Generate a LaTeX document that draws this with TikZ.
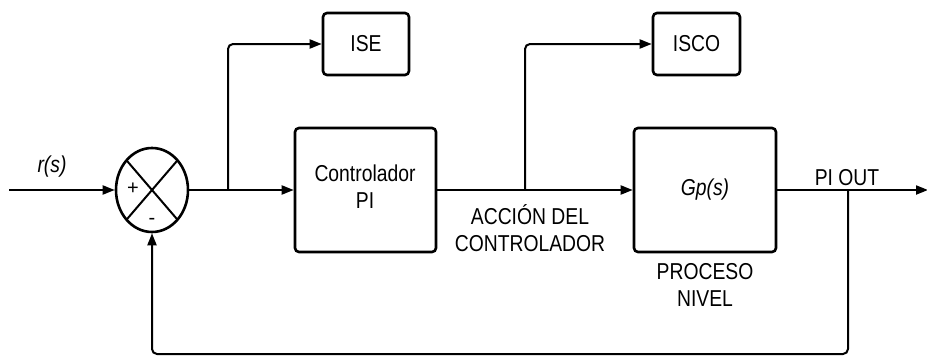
\documentclass[tikz,border=0pt]{standalone}
\usepackage{fontspec}
\setmainfont{Liberation Sans}
\usetikzlibrary{arrows.meta,shapes.geometric}
\newcommand{\sq}[1]{\scalebox{0.84}[1]{#1}}
\newcommand{\two}[2]{\sq{\begin{tabular}{@{}c@{}}#1\\#2\end{tabular}}}
\tikzset{
  blk/.style={draw, rounded corners=4pt, line width=2.6pt, inner sep=0pt},
  conn/.style={line width=2pt, -{Triangle[length=12pt,width=9pt]}},
  wire/.style={line width=2pt},
  lbl/.style={inner sep=0pt, font=\fontsize{23}{27}\selectfont},
  sgn/.style={inner sep=0pt, font=\fontsize{20}{24}\selectfont},
}
\begin{document}
\begin{tikzpicture}[x=1pt,y=-1pt]
\useasboundingbox (0,0) rectangle (927,356);
% nodes
\node[draw, ellipse, line width=2.6pt, minimum width=72pt, minimum height=84pt, inner sep=0pt] (sum) at (152,190) {};
\draw[wire] (sum.center) ++(-25.5,-29.7) -- ++(51,59.4);
\draw[wire] (sum.center) ++(25.5,-29.7) -- ++(-51,59.4);
\node[sgn] (plus) at (133,189) {+};
\node[sgn] (minus) at (152,221) {-};
\node[blk, minimum width=141pt, minimum height=124pt] (ctrl) at (365.5,190) {};
\node[lbl] (ctrltxt) at (365,190) {\two{Controlador}{PI}};
\node[blk, minimum width=86pt, minimum height=62pt] (ise) at (366,44) {};
\node[lbl] (isetxt) at (366,44) {\sq{ISE}};
\node[blk, minimum width=87pt, minimum height=62pt] (isco) at (696.5,44) {};
\node[lbl] (iscotxt) at (696.5,44) {\sq{ISCO}};
\node[blk, minimum width=142pt, minimum height=124pt] (gp) at (705,190) {};
\node[lbl] (gptxt) at (705,190) {\sq{\itshape Gp(s)}};
\node[lbl] (rs) at (52,167) {\sq{\itshape r(s)}};
\node[lbl] (accion) at (530,232) {\two{ACCIÓN DEL}{CONTROLADOR}};
\node[lbl] (proceso) at (705,288) {\two{PROCESO}{NIVEL}};
\node[lbl] (piout) at (847,178) {\sq{PI OUT}};
% coordinates
\coordinate (in) at (9,190);
\coordinate (b1) at (228,190);
\coordinate (b2) at (525,190);
\coordinate (tap) at (848,190);
\coordinate (out) at (928,190);
% connectors
\draw[conn] (in) -- (sum.west);
\draw[conn] (sum.east) -- (ctrl.west);
\draw[conn, rounded corners=5pt] (b1) |- (ise.west);
\draw[conn] (ctrl.east) -- (gp.west);
\draw[conn, rounded corners=5pt] (b2) |- (isco.west);
\draw[conn] (gp.east) -- (out);
\draw[conn, rounded corners=5pt] (tap) -- (848,354) -- (152,354) -- (sum.south);
\end{tikzpicture}
\end{document}
